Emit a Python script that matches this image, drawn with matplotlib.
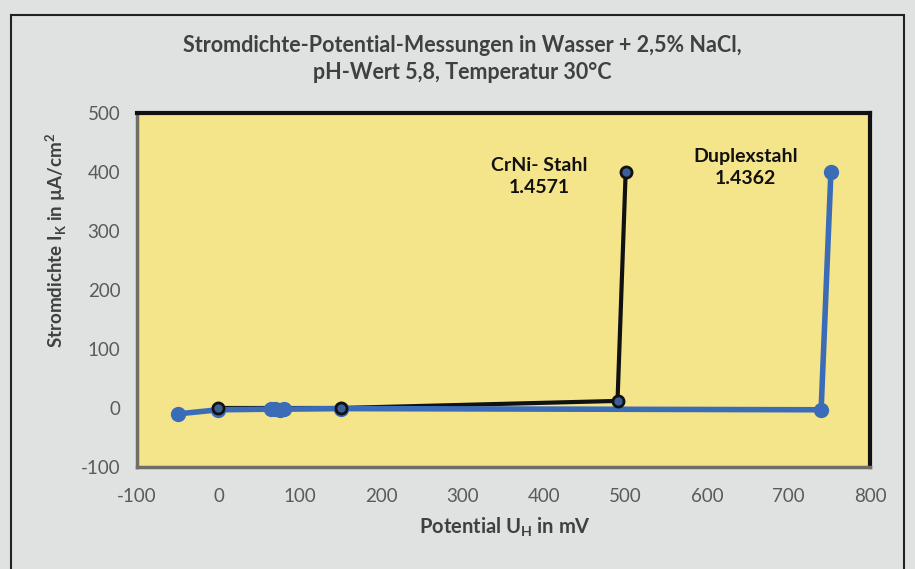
import matplotlib
matplotlib.use("Agg")
import matplotlib.pyplot as plt
from matplotlib.patches import Rectangle

# Duplexstahl 1.4362 (blue)
duplex_u = [-50, 0, 65, 70, 75, 80, 150, 740, 752]
duplex_i = [-10, -3, -2, -1, -3, -2, -1, -3, 400]

# CrNi-Stahl 1.4571 (black)
crni_u = [0, 150, 490, 500]
crni_i = [0, 0, 12, 400]

xticks = [-100, 0, 100, 200, 300, 400, 500, 600, 700, 800]
yticks = [-100, 0, 100, 200, 300, 400, 500]

plt.rcParams['font.family'] = ['Lato', 'DejaVu Sans']
plt.rcParams['axes.unicode_minus'] = False

W, H = 915, 569
fig = plt.figure(figsize=(W / 100, H / 100), dpi=100)
fig.patch.set_facecolor('#dfe2e1')

# outer chart frame (runs off the bottom edge)
fig.patches.append(Rectangle((11 / W, -0.05), 893 / W, 1.05 - 15 / H,
                             transform=fig.transFigure, fill=False,
                             edgecolor='#222222', linewidth=1.5))

ax = fig.add_axes([137 / W, 1 - 467 / H, 733 / W, 354 / H])
ax.set_facecolor('#f4e48a')

blue = '#3b6cb8'
ax.plot(crni_u, crni_i, color='#111111', linewidth=3, zorder=2)
ax.plot(duplex_u, duplex_i, color=blue, linewidth=4, marker='o',
        markersize=10, markeredgecolor=blue, zorder=3)
ax.plot(crni_u, crni_i, linestyle='none', marker='o', markersize=8,
        markerfacecolor='#3d5f98', markeredgecolor='#111111',
        markeredgewidth=2, zorder=4)

ax.set_xlim(-100, 800)
ax.set_ylim(-100, 500)
ax.set_xticks(xticks)
ax.set_yticks(yticks)
ax.tick_params(length=0, labelsize=13.5, colors='#5a5a5a', pad=12)
ax.tick_params(axis='x', pad=15)

for s in ['top', 'right']:
    ax.spines[s].set_color('#111111')
    ax.spines[s].set_linewidth(3)
for s in ['left', 'bottom']:
    ax.spines[s].set_color('#6e6e66')
    ax.spines[s].set_linewidth(2.5)

ax.text(394, 392, 'CrNi- Stahl\n1.4571', ha='center', va='center',
        fontsize=14, fontweight='bold', color='#111111', linespacing=1.35)
ax.text(647, 407, 'Duplexstahl\n1.4362', ha='center', va='center',
        fontsize=14, fontweight='bold', color='#111111', linespacing=1.35)

fig.text(462 / W, 1 - 59 / H,
         'Stromdichte-Potential-Messungen in Wasser + 2,5% NaCl,\npH-Wert 5,8, Temperatur 30°C',
         ha='center', va='center', fontsize=15.5, fontweight='bold',
         color='#404040', linespacing=1.4)

fig.text(505 / W, 1 - 527 / H, r'Potential U$_\mathregular{H}$ in mV',
         ha='center', va='center', fontsize=14.5, fontweight='bold', color='#404040')
fig.text(56 / W, 1 - 240 / H, r'Stromdichte I$_\mathregular{K}$ in µA/cm$^\mathregular{2}$',
         ha='center', va='center', rotation=90, fontsize=13.5,
         fontweight='bold', color='#404040')

fig.savefig('out.png', dpi=100, facecolor=fig.get_facecolor())
